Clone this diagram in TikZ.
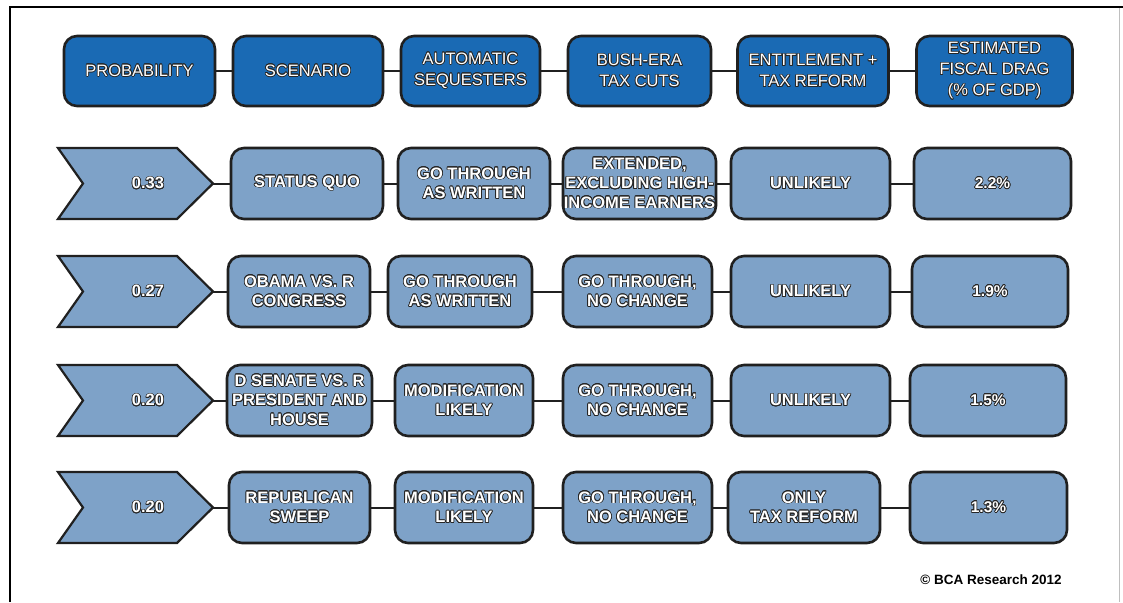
\documentclass[tikz,border=0pt]{standalone}
\usepackage{fontspec}
\setmainfont{Liberation Sans}
\usepackage{contour}
\contourlength{0.7pt}
\newcommand{\outl}[1]{\contour{black!85}{#1}}

\definecolor{headblue}{RGB}{26,106,180}
\definecolor{rowblue}{RGB}{126,162,200}
\definecolor{edgegray}{RGB}{32,32,32}

\tikzset{
  headbox/.style={draw=edgegray, line width=2.6pt, fill=headblue, rounded corners=13pt,
    minimum height=70pt, inner sep=0pt, align=center, text=white,
    font=\fontsize{16.5}{21}\selectfont},
  rowbox/.style={draw=edgegray, line width=2.6pt, fill=rowblue, rounded corners=13pt,
    minimum height=71pt, inner sep=0pt, align=center, text=white,
    font=\bfseries\fontsize{16.5}{19.5}\selectfont},
  chev/.style={draw=edgegray, line width=2.2pt, fill=rowblue},
  probtext/.style={text=white, font=\bfseries\fontsize{16.5}{18}\selectfont},
  link/.style={draw=edgegray, line width=2pt},
}

\begin{document}
\begin{tikzpicture}[x=1pt,y=-1pt]
\useasboundingbox[fill=white] (0,0) rectangle (1123,602);
\draw[line width=2.5pt] (10,602) -- (10,7) -- (1123,7);
\draw[black!25, line width=1pt] (1119,8) -- (1119,602);

% header
\node[headbox, minimum width=151pt] (h1) at (139.5,71) {\outl{PROBABILITY}};
\node[headbox, minimum width=150pt] (h2) at (308,71) {\outl{SCENARIO}};
\node[headbox, minimum width=139pt] (h3) at (470.5,71) {\outl{AUTOMATIC}\\\outl{SEQUESTERS}};
\node[headbox, minimum width=143pt] (h4) at (639.5,71) {\outl{BUSH-ERA}\\\outl{TAX CUTS}};
\node[headbox, minimum width=151pt] (h5) at (813,71) {\outl{ENTITLEMENT +}\\\outl{TAX REFORM}};
\node[headbox, minimum width=156pt] (h6) at (994.5,71) {\outl{ESTIMATED}\\\outl{FISCAL DRAG}\\\outl{(\% OF GDP)}};

\draw[link] (h1) -- (h2);
\draw[link] (h2) -- (h3);
\draw[link] (h3) -- (h4);
\draw[link] (h4) -- (h5);
\draw[link] (h5) -- (h6);

% row 1
\draw[chev] (58,148) -- (177,148) -- (213,183.5) -- (177,219) -- (58,219) -- (83,183.5) -- cycle;
\node[probtext] (p1) at (148,183.5) {\outl{0.33}};
\coordinate (p1tip) at (213,183.5);
\node[rowbox, minimum width=152pt] (s1) at (307,183.5) {\outl{STATUS QUO}};
\node[rowbox, minimum width=152pt] (a1) at (474,183.5) {\outl{GO THROUGH}\\\outl{AS WRITTEN}};
\node[rowbox, minimum width=153pt] (b1) at (639.5,183.5) {\outl{EXTENDED,}\\\outl{EXCLUDING HIGH-}\\\outl{INCOME EARNERS}};
\node[rowbox, minimum width=159pt] (e1) at (810.5,183.5) {\outl{UNLIKELY}};
\node[rowbox, minimum width=157pt, font=\bfseries\fontsize{15.5}{18}\selectfont] (f1) at (992.5,183.5) {\outl{2.2\%}};

\draw[link] (p1tip) -- (s1);
\draw[link] (s1) -- (a1);
\draw[link] (a1) -- (b1);
\draw[link] (b1) -- (e1);
\draw[link] (e1) -- (f1);

% row 2
\draw[chev] (58,256) -- (177,256) -- (213,291.5) -- (177,327) -- (58,327) -- (83,291.5) -- cycle;
\node[probtext] (p2) at (148,291.5) {\outl{0.27}};
\coordinate (p2tip) at (213,291.5);
\node[rowbox, minimum width=142pt] (s2) at (299,291.5) {\outl{OBAMA VS. R}\\\outl{CONGRESS}};
\node[rowbox, minimum width=144pt] (a2) at (460,291.5) {\outl{GO THROUGH}\\\outl{AS WRITTEN}};
\node[rowbox, minimum width=149pt] (b2) at (637.5,291.5) {\outl{GO THROUGH,}\\\outl{NO CHANGE}};
\node[rowbox, minimum width=159pt] (e2) at (810.5,291.5) {\outl{UNLIKELY}};
\node[rowbox, minimum width=156pt, font=\bfseries\fontsize{15.5}{18}\selectfont] (f2) at (990,291.5) {\outl{1.9\%}};

\draw[link] (p2tip) -- (s2);
\draw[link] (s2) -- (a2);
\draw[link] (a2) -- (b2);
\draw[link] (b2) -- (e2);
\draw[link] (e2) -- (f2);

% row 3
\draw[chev] (58,365) -- (177,365) -- (213,400.5) -- (177,436) -- (58,436) -- (83,400.5) -- cycle;
\node[probtext] (p3) at (148,400.5) {\outl{0.20}};
\coordinate (p3tip) at (213,400.5);
\node[rowbox, minimum width=145pt] (s3) at (299.5,400.5) {\outl{D SENATE VS. R}\\\outl{PRESIDENT AND}\\\outl{HOUSE}};
\node[rowbox, minimum width=138pt] (a3) at (464,400.5) {\outl{MODIFICATION}\\\outl{LIKELY}};
\node[rowbox, minimum width=149pt] (b3) at (637.5,400.5) {\outl{GO THROUGH,}\\\outl{NO CHANGE}};
\node[rowbox, minimum width=159pt] (e3) at (810.5,400.5) {\outl{UNLIKELY}};
\node[rowbox, minimum width=156pt, font=\bfseries\fontsize{15.5}{18}\selectfont] (f3) at (988,400.5) {\outl{1.5\%}};

\draw[link] (p3tip) -- (s3);
\draw[link] (s3) -- (a3);
\draw[link] (a3) -- (b3);
\draw[link] (b3) -- (e3);
\draw[link] (e3) -- (f3);

% row 4
\draw[chev] (58,472) -- (177,472) -- (213,507.5) -- (177,543) -- (58,543) -- (83,507.5) -- cycle;
\node[probtext] (p4) at (148,507.5) {\outl{0.20}};
\coordinate (p4tip) at (213,507.5);
\node[rowbox, minimum width=141pt] (s4) at (299.5,507.5) {\outl{REPUBLICAN}\\\outl{SWEEP}};
\node[rowbox, minimum width=138pt] (a4) at (464,507.5) {\outl{MODIFICATION}\\\outl{LIKELY}};
\node[rowbox, minimum width=149pt] (b4) at (637.5,507.5) {\outl{GO THROUGH,}\\\outl{NO CHANGE}};
\node[rowbox, minimum width=152pt] (e4) at (804,507.5) {\outl{ONLY}\\\outl{TAX REFORM}};
\node[rowbox, minimum width=157pt, font=\bfseries\fontsize{15.5}{18}\selectfont] (f4) at (988.5,507.5) {\outl{1.3\%}};

\draw[link] (p4tip) -- (s4);
\draw[link] (s4) -- (a4);
\draw[link] (a4) -- (b4);
\draw[link] (b4) -- (e4);
\draw[link] (e4) -- (f4);

\node[font=\bfseries\fontsize{13.5}{15}\selectfont] (credit) at (991,580) {\textcopyright\ BCA Research 2012};
\end{tikzpicture}
\end{document}
